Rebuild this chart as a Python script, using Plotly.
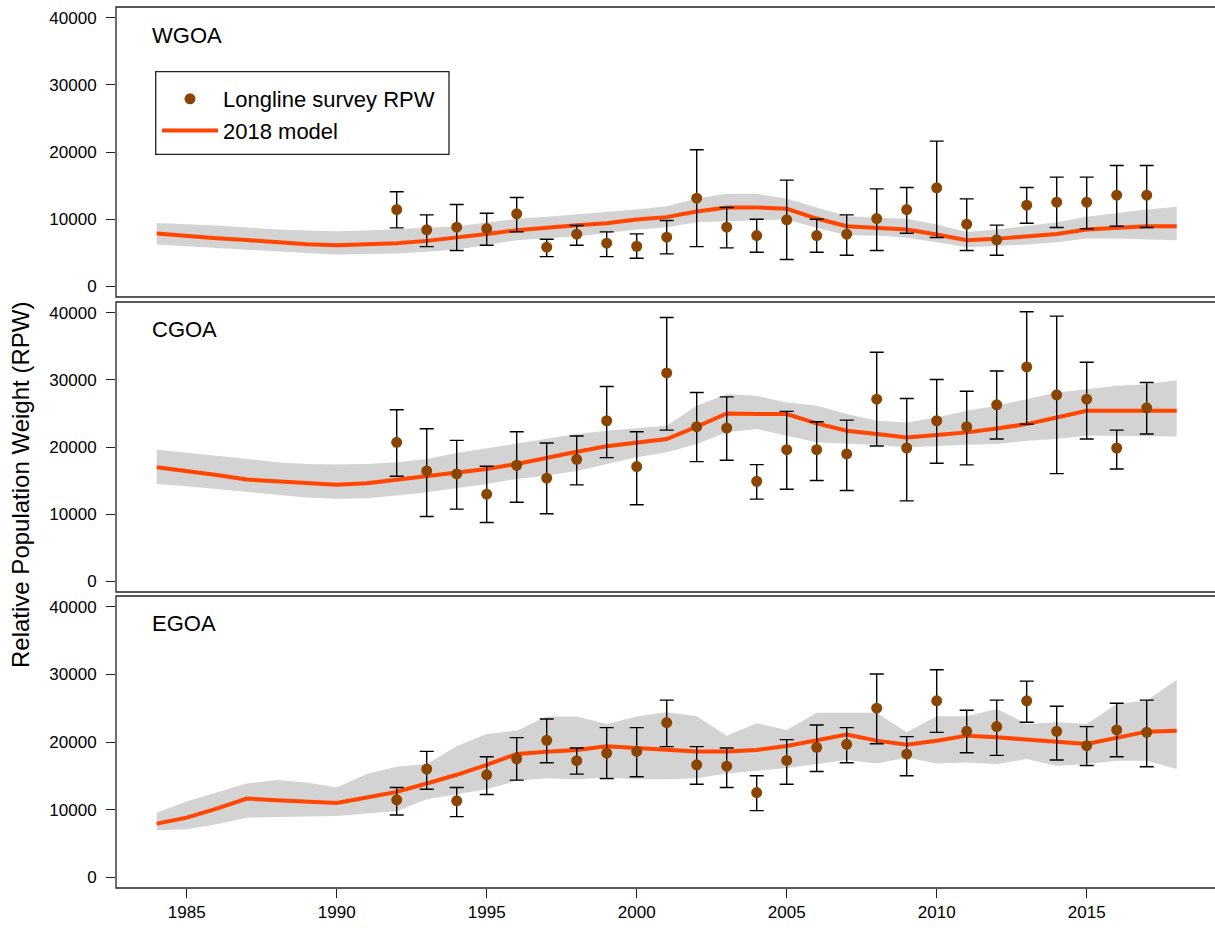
import plotly.graph_objects as go

# ---------------- data ----------------
years_model = list(range(1984, 2019))
years_obs = list(range(1992, 2018))
panel_names = ["WGOA", "CGOA", "EGOA"]
x_tick_vals = [1985, 1990, 1995, 2000, 2005, 2010, 2015]
y_tick_vals = [0, 10000, 20000, 30000, 40000]
y_tick_text = ["0", "10000", "20000", "30000", "40000"]

# WGOA
wg_obs = [11430, 8400, 8800, 8600, 10790, 5820, 7750, 6410, 5960, 7310, 13120, 8800, 7550,
          9890, 7550, 7750, 10090, 11430, 14660, 9240, 6910, 12080, 12520, 12520, 13570, 13570]
wg_hi = [14070, 10640, 12180, 10880, 13220, 7010, 9050, 8100, 7800, 9790, 20330, 11730, 9990,
         15810, 9990, 10640, 14510, 14710, 21620, 13020, 9100, 14710, 16250, 16250, 17990, 17990]
wg_lo = [8700, 5910, 5320, 6110, 8100, 4420, 6110, 4420, 4180, 4820, 5910, 5720, 5070,
         3980, 5070, 4620, 5320, 7900, 7260, 5320, 4620, 9390, 8750, 8550, 8950, 8750]
wg_model = [7850, 7450, 7160, 6880, 6510, 6260, 6110, 6260, 6410, 6760,
            7210, 7800, 8350, 8750, 9100, 9390, 9940, 10300, 11130, 11730,
            11730, 11530, 10090, 8950, 8700, 8450, 7700, 6860, 7060, 7360,
            7800, 8450, 8750, 8950, 8950]
wg_up = [9440, 9250, 9050, 8750, 8450, 8300, 8200, 8300, 8450, 8700,
         8950, 9500, 10040, 10350, 10690, 11050, 11430, 11930, 13070, 13770,
         13770, 13020, 11680, 10440, 10190, 10040, 9200, 8100, 8450, 8950,
         9540, 10340, 10930, 11430, 11830]
wg_lw = [6210, 6000, 5800, 5500, 5200, 4950, 4720, 4800, 4870, 5150,
         5470, 6150, 6860, 7150, 7450, 7950, 8450, 8800, 9540, 9690,
         9840, 9940, 8700, 7600, 7550, 7210, 6560, 5820, 6060, 6210,
         6560, 7110, 7110, 6960, 6860]

# CGOA
cg_obs = [20690, 16430, 15990, 12970, 17280, 15350, 18170, 23910, 17080, 31040, 23020, 22820, 14900,
          19600, 19600, 18960, 27130, 19850, 23910, 23020, 26290, 31930, 27770, 27130, 19850, 25840]
cg_hi = [25540, 22720, 20990, 17130, 22280, 20590, 21630, 29010, 22280, 39300, 28120, 27470, 17380,
         25300, 23760, 24010, 34110, 27230, 30050, 28310, 31330, 40150, 39500, 32620, 22520, 29600]
cg_lo = [15640, 9650, 10740, 8760, 11780, 10050, 14360, 18410, 11390, 22520, 17820, 18020, 12230,
         13710, 15000, 13510, 20150, 11980, 17570, 17330, 21190, 23410, 16040, 21190, 16730, 21930]
cg_model = [16980, 16480, 15840, 15150, 14850, 14600, 14360, 14600, 15100, 15590,
            16090, 16730, 17470, 18460, 19300, 20100, 20590, 21190, 23020, 25000,
            24900, 24900, 23510, 22420, 21930, 21430, 21780, 22180, 22770, 23410,
            24400, 25390, 25390, 25390, 25390]
cg_up = [19600, 19210, 18710, 18220, 17720, 17470, 17380, 17470, 17720, 18220,
         19110, 19800, 20540, 21190, 21930, 22420, 22820, 23170, 26140, 27870,
         27620, 26630, 26140, 24900, 23910, 23660, 24400, 25390, 26140, 27130,
         28120, 28610, 29110, 29350, 29950]
cg_lw = [14500, 14160, 13760, 13370, 12870, 12470, 12280, 12380, 12770, 13270,
         13860, 14500, 15250, 15740, 16430, 17470, 18460, 19210, 20440, 22180,
         22670, 21680, 20690, 20440, 20300, 19950, 20200, 20350, 20440, 20940,
         21190, 21680, 21680, 21680, 21580]

# EGOA
eg_obs = [11440, 15990, 11290, 15150, 17520, 20250, 17230, 18370, 18610, 22870, 16630, 16430, 12520,
          17280, 19210, 19650, 25000, 18220, 26090, 21580, 22280, 26090, 21580, 19450, 21780, 21430]
eg_hi = [13270, 18610, 13270, 17820, 20640, 23410, 19110, 22130, 22130, 26190, 19310, 19110, 15000,
         20350, 22520, 22130, 30050, 20790, 30690, 24700, 26190, 29010, 25300, 22280, 25740, 26190]
eg_lo = [9210, 13020, 8960, 12230, 14360, 16930, 15250, 14600, 14850, 19310, 13760, 13270, 9850,
         13760, 15640, 16930, 19750, 15000, 21430, 18410, 18020, 22920, 17330, 16530, 17820, 16340]
eg_model = [7920, 8810, 10150, 11630, 11390, 11190, 10990, 11780, 12620, 13860,
            15150, 16630, 18220, 18560, 18810, 19360, 19060, 18860, 18610, 18610,
            18810, 19400, 20200, 21090, 20200, 19600, 20200, 20940, 20690, 20440,
            20050, 19700, 20690, 21530, 21680]
eg_up = [9550, 11190, 12520, 13860, 14360, 14010, 13270, 15250, 16340, 16730,
         19360, 21190, 21680, 23760, 23760, 22670, 23760, 24400, 23810, 20940,
         22770, 21780, 24310, 24310, 24310, 21430, 23810, 23810, 24900, 22670,
         22920, 22670, 25640, 26140, 29210]
eg_lw = [6930, 7080, 7820, 8810, 8910, 8960, 9060, 9410, 9800, 11530,
         12280, 13020, 14260, 14650, 14500, 14750, 14500, 14500, 14650, 15350,
         15740, 16140, 16730, 17330, 16830, 17720, 16830, 16980, 16730, 17470,
         16480, 16730, 17230, 17230, 15990]

# ---------------- styling ----------------
FONT = "Liberation Sans, Arial, sans-serif"
PT_COLOR = "#8B4500"
LINE_COLOR = "#FF4500"
BAND_COLOR = "#D3D3D3"
FRAME = "#222222"

W, H = 1215, 928
ML, MR, MT, MB = 116, 0, 7, 40
plot_w = W - ML - MR
plot_h = H - MT - MB


def px_x(px):
    return (px - ML) / plot_w


def px_y(py):
    return (H - MB - py) / plot_h


# panel pixel extents (top, bottom) in page pixels
panel_px = [(7, 297), (302, 592), (596, 888)]
domains = [[px_y(b), px_y(t)] for (t, b) in panel_px]
domains[2][0] = 0.0
domains[0][1] = 1.0

panels = [
    (wg_obs, wg_hi, wg_lo, wg_model, wg_up, wg_lw),
    (cg_obs, cg_hi, cg_lo, cg_model, cg_up, cg_lw),
    (eg_obs, eg_hi, eg_lo, eg_model, eg_up, eg_lw),
]

fig = go.Figure()
for i, (obs, hi, lo, model, up, lw) in enumerate(panels):
    xa = "x" if i == 0 else f"x{i+1}"
    ya = "y" if i == 0 else f"y{i+1}"
    fig.add_trace(go.Scatter(
        x=years_model + years_model[::-1], y=up + lw[::-1],
        fill="toself", fillcolor=BAND_COLOR, line=dict(width=0),
        mode="lines", hoverinfo="skip", showlegend=False, xaxis=xa, yaxis=ya))
    fig.add_trace(go.Scatter(
        x=years_model, y=model, mode="lines", name="2018 model",
        line=dict(color=LINE_COLOR, width=4), showlegend=False, xaxis=xa, yaxis=ya))
    fig.add_trace(go.Scatter(
        x=years_obs, y=obs, mode="markers", name="Longline survey RPW",
        marker=dict(color=PT_COLOR, size=11),
        error_y=dict(type="data", symmetric=False,
                     array=[h - o for h, o in zip(hi, obs)],
                     arrayminus=[o - l for o, l in zip(obs, lo)],
                     color="black", thickness=1.4, width=7),
        showlegend=False, xaxis=xa, yaxis=ya))

# legend-only entries
fig.add_trace(go.Scatter(x=[None], y=[None], mode="markers", name="Longline survey RPW",
                         marker=dict(color=PT_COLOR, size=11), showlegend=True))
fig.add_trace(go.Scatter(x=[None], y=[None], mode="lines", name="2018 model",
                         line=dict(color=LINE_COLOR, width=4), showlegend=True))

x_left = 1985 - (186.7 - ML) / 30.0
x_right = x_left + plot_w / 30.0

layout = dict(
    width=W, height=H,
    margin=dict(l=ML, r=MR, t=MT, b=MB, pad=0),
    paper_bgcolor="white", plot_bgcolor="white",
    font=dict(family=FONT, color="black", size=17),
    legend=dict(x=px_x(157), y=px_y(78),
                xanchor="left", yanchor="top", bgcolor="rgba(0,0,0,0)",
                borderwidth=0,
                font=dict(size=22, family=FONT, color="black"),
                itemwidth=56, tracegroupgap=0),
    showlegend=True,
)

for i in range(3):
    xk = "xaxis" if i == 0 else f"xaxis{i+1}"
    yk = "yaxis" if i == 0 else f"yaxis{i+1}"
    ya = "y" if i == 0 else f"y{i+1}"
    xa = "x" if i == 0 else f"x{i+1}"
    bottom = (i == 2)
    layout[xk] = dict(
        domain=[0, 1], anchor=ya, range=[x_left, x_right],
        showgrid=False, zeroline=False, showline=False,
        ticks="outside" if bottom else "", ticklen=9, tickwidth=1.3, tickcolor=FRAME,
        tickvals=x_tick_vals, showticklabels=bottom,
        tickfont=dict(size=17, family=FONT, color="black"),
    )
    if i > 0:
        layout[xk]["matches"] = "x"
    layout[yk] = dict(
        domain=domains[i], anchor=xa, range=[-1600, 41600],
        showgrid=False, zeroline=False, showline=False,
        ticks="outside", ticklen=9, tickwidth=1.3, tickcolor=FRAME,
        tickvals=y_tick_vals, ticktext=y_tick_text,
        tickfont=dict(size=17, family=FONT, color="black"),
        ticklabelstandoff=6,
    )

fig.update_layout(**layout)

# panel frames
for i in range(3):
    fig.add_shape(type="rect", xref="paper", yref="paper",
                  x0=0, x1=1.02, y0=domains[i][0], y1=domains[i][1],
                  line=dict(color=FRAME, width=1.3), fillcolor="rgba(0,0,0,0)", layer="above")

# legend frame
fig.add_shape(type="rect", xref="paper", yref="paper",
              x0=px_x(155.7), x1=px_x(449), y0=px_y(154.3), y1=px_y(71.7),
              line=dict(color=FRAME, width=1.3), fillcolor="rgba(0,0,0,0)", layer="above")

# panel labels
label_y_px = [35, 329, 623]
for name, ypx in zip(panel_names, label_y_px):
    fig.add_annotation(text=name, xref="paper", yref="paper",
                       x=px_x(150), y=px_y(ypx),
                       xanchor="left", yanchor="middle", showarrow=False,
                       font=dict(size=22, family=FONT, color="black"))

# y axis title
fig.add_annotation(text="Relative Population Weight (RPW)", xref="paper", yref="paper",
                   x=px_x(21), y=px_y(485),
                   xanchor="center", yanchor="middle", textangle=-90, showarrow=False,
                   font=dict(size=24, family=FONT, color="black"))

fig.write_html("out.html", config={"displayModeBar": False},
               post_script="document.body.style.margin='0';")
